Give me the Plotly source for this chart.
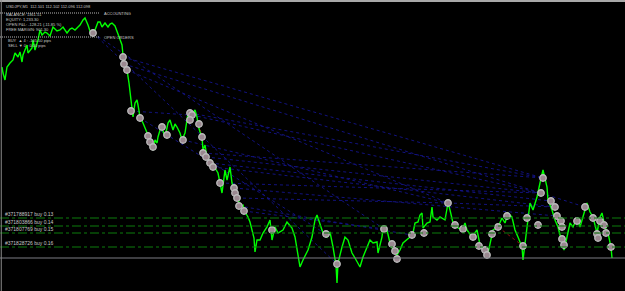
import plotly.graph_objects as go

# ---- price series (USDJPY M1) ----
bars = [2,3,5,7,10,13,15,18,20,22,23,27,28,32,33,35,38,40,42,45,47,50,53,57,60,63,67,70,72,75,78,80,83,85,88,90,92,95,98,100,102,105,108,110,112,115,118,120,122,123,124,126,127,129,131,132,133,135,137,138,140,143,147,150,153,155,157,158,160,162,165,168,170,173,175,177,180,182,185,188,190,193,195,197,198,200,202,203,205,207,210,212,215,218,220,222,225,227,230,232,235,238,240,243,245,248,250,252,254,255,257,260,263,267,270,272,275,278,283,287,292,295,298,300,303,308,312,315,317,320,323,327,330,333,336,337,338,342,345,348,352,355,360,363,367,370,373,377,378,382,383,387,390,393,397,400,403,407,410,413,415,418,420,422,423,427,430,432,433,437,440,445,448,450,453,458,462,465,467,472,477,480,485,487,490,493,498,502,505,508,512,515,518,522,523,525,528,530,533,537,540,543,547,548,552,555,558,562,564,567,570,573,577,580,583,587,590,593,597,600,602,605,608,611,612]
close = [112.333,112.327,112.320,112.333,112.337,112.340,112.347,112.343,112.348,112.338,112.345,112.355,112.347,112.352,112.360,112.350,112.360,112.370,112.365,112.368,112.367,112.364,112.373,112.369,112.370,112.373,112.367,112.371,112.372,112.370,112.373,112.375,112.380,112.382,112.375,112.369,112.367,112.370,112.378,112.378,112.373,112.377,112.373,112.376,112.377,112.374,112.366,112.361,112.355,112.345,112.338,112.334,112.330,112.317,112.300,112.288,112.283,112.297,112.300,112.295,112.283,112.277,112.267,112.260,112.250,112.260,112.257,112.263,112.270,112.272,112.263,112.277,112.280,112.270,112.276,112.273,112.267,112.260,112.267,112.287,112.283,112.288,112.290,112.283,112.275,112.268,112.263,112.250,112.255,112.243,112.237,112.237,112.232,112.227,112.217,112.207,112.230,112.220,112.233,112.217,112.207,112.202,112.193,112.195,112.188,112.183,112.178,112.170,112.162,112.148,112.160,112.160,112.167,112.173,112.180,112.160,112.173,112.167,112.170,112.178,112.172,112.163,112.142,112.133,112.140,112.150,112.163,112.180,112.185,112.177,112.167,112.163,112.168,112.153,112.135,112.117,112.137,112.153,112.163,112.160,112.147,112.142,112.133,112.143,112.153,112.160,112.157,112.158,112.147,112.163,112.172,112.170,112.157,112.150,112.145,112.150,112.157,112.160,112.163,112.167,112.177,112.178,112.185,112.187,112.172,112.177,112.178,112.193,112.183,112.180,112.183,112.180,112.197,112.190,112.177,112.172,112.170,112.177,112.170,112.163,112.170,112.155,112.148,112.142,112.157,112.170,112.173,112.182,112.177,112.187,112.183,112.170,112.163,112.153,112.140,112.157,112.180,112.197,112.190,112.203,112.217,112.230,112.213,112.200,112.190,112.180,112.173,112.157,112.150,112.163,112.177,112.173,112.182,112.173,112.183,112.197,112.188,112.183,112.167,112.183,112.187,112.173,112.167,112.153,112.142]

# ---- order arrows (open/close points) ----
order_x = [93,123,124,127,131,140,148,150,153,162,167,183,190,192,190,199,202,203,206,210,213,220,234,235,237,239,244,272,326,337,384,392,395,397,412,424,448,455,463,473,479,485,487,492,498,507,523,527,538,541,543,551,555,557,561,562,562,564,577,585,593,597,598,600,604,606,611]
order_p = [112.367,112.343,112.336,112.330,112.289,112.282,112.264,112.258,112.253,112.273,112.265,112.260,112.287,112.285,112.280,112.276,112.263,112.247,112.243,112.237,112.233,112.217,112.212,112.207,112.202,112.194,112.189,112.170,112.166,112.136,112.171,112.156,112.149,112.141,112.165,112.167,112.197,112.175,112.171,112.163,112.154,112.150,112.145,112.166,112.173,112.184,112.154,112.182,112.175,112.207,112.222,112.199,112.193,112.184,112.179,112.173,112.161,112.155,112.179,112.193,112.182,112.166,112.162,112.179,112.175,112.167,112.153]

# ---- trade connectors (open -> close) ----
seg_open_x  = [123,124,127,93,93,131,140,190,192,203,206,210,213,220,234,237,239,244,448,541,183]
seg_open_p  = [112.343,112.336,112.330,112.367,112.367,112.289,112.282,112.287,112.285,112.247,112.243,112.237,112.233,112.217,112.212,112.202,112.194,112.189,112.197,112.207,112.260]
seg_close_x = [543,541,448,384,337,190,326,543,541,543,541,551,555,541,557,448,412,384,555,585,448]
seg_close_p = [112.222,112.207,112.197,112.171,112.136,112.285,112.166,112.222,112.207,112.222,112.207,112.199,112.193,112.207,112.184,112.197,112.165,112.171,112.193,112.193,112.197]
loss_open_x  = [199,498]
loss_open_p  = [112.276,112.173]
loss_close_x = [202,523]
loss_close_p = [112.263,112.154]

# ---- horizontal levels ----
buy_levels = [112.182,112.174,112.167,112.153]
buy_labels = ["#371788917 buy 0.13","#371803866 buy 0.14","#371807769 buy 0.15","#371828726 buy 0.16"]
bid_level = 112.142
accounting_level = 112.387
open_orders_level = 112.363

header = "USDJPY,M1  112.101 112.102 112.096 112.098"
account_lines = ["BALANCE: 1361.51","EQUITY: 1,233.30","OPEN P&L: -128.21 (-11.85 %)","FREE MARGIN: 901.30"]
orders_lines = ["BUY  \u25b2 4 : -105.50 pips","SELL \u25bc 0 : 0.00 pips"]

Y0, Y1 = 112.109, 112.400
FONT = "Liberation Sans, Arial"
TXT5 = dict(family=FONT, size=5, color="#c8c8c8")
TXT4 = dict(family=FONT, size=4, color="#c8c8c8")

fig = go.Figure()

def seg_trace(ox, op, cx, cp, color):
    xs, ys = [], []
    for a, b, c, d in zip(ox, op, cx, cp):
        xs += [a, c, None]
        ys += [b, d, None]
    return go.Scatter(x=xs, y=ys, mode="lines", line=dict(color=color, width=0.9, dash="dot"),
                      hoverinfo="skip", showlegend=False)

fig.add_trace(seg_trace(seg_open_x, seg_open_p, seg_close_x, seg_close_p, "#14148c"))
fig.add_trace(seg_trace(loss_open_x, loss_open_p, loss_close_x, loss_close_p, "#9a1414"))

fig.add_trace(go.Scatter(x=bars, y=close, mode="lines",
                         line=dict(color="#00ff00", width=1.4), showlegend=False))

fig.add_trace(go.Scatter(x=order_x, y=order_p, mode="markers",
                         marker=dict(size=6.5, color="#9a8890", line=dict(color="#bcbcbc", width=1.3)),
                         showlegend=False))

shapes = []
for lv in buy_levels:
    shapes.append(dict(type="line", xref="paper", x0=0, x1=1, yref="y", y0=lv, y1=lv,
                       line=dict(color="#0c7c0c", width=1, dash="dashdot")))
shapes.append(dict(type="line", xref="paper", x0=0, x1=1, yref="y", y0=bid_level, y1=bid_level,
                   line=dict(color="#7c7c84", width=1)))
for lv in [accounting_level, open_orders_level]:
    shapes.append(dict(type="line", xref="x", x0=0, x1=100, yref="y", y0=lv, y1=lv,
                       line=dict(color="#b4b4b4", width=1, dash="1px,1px")))
# window frame
shapes.append(dict(type="rect", xref="paper", yref="paper", x0=0, x1=1, y0=0.993, y1=1.0,
                   fillcolor="#a8a8a8", line=dict(width=0)))
shapes.append(dict(type="line", xref="paper", yref="paper", x0=0.002, x1=0.002, y0=0, y1=1,
                   line=dict(color="#8a8a8a", width=1)))

annotations = []
annotations.append(dict(x=4, y=112.394, xref="x", yref="y", text=header, showarrow=False,
                        xanchor="left", yanchor="middle", font=TXT4))
acc_y = [112.3855, 112.3805, 112.3755, 112.3705]
for t, yy in zip(account_lines, acc_y):
    annotations.append(dict(x=4, y=yy, xref="x", yref="y", text=t, showarrow=False,
                            xanchor="left", yanchor="middle", font=TXT4))
ord_y = [112.3595, 112.3545]
for t, yy in zip(orders_lines, ord_y):
    annotations.append(dict(x=6, y=yy, xref="x", yref="y", text=t, showarrow=False,
                            xanchor="left", yanchor="middle", font=TXT4))
annotations.append(dict(x=102, y=accounting_level, xref="x", yref="y", text="ACCOUNTING",
                        showarrow=False, xanchor="left", yanchor="middle", font=TXT4))
annotations.append(dict(x=102, y=open_orders_level, xref="x", yref="y", text="OPEN ORDERS",
                        showarrow=False, xanchor="left", yanchor="middle", font=TXT4))
for lv, t in zip(buy_levels, buy_labels):
    annotations.append(dict(x=3, y=lv, xref="x", yref="y", text=t, showarrow=False,
                            xanchor="left", yanchor="bottom", yshift=-1, font=TXT5))

fig.update_layout(
    width=625, height=291, margin=dict(l=0, r=0, t=0, b=0),
    paper_bgcolor="#000000", plot_bgcolor="#000000",
    xaxis=dict(range=[0, 625], visible=False, fixedrange=True),
    yaxis=dict(range=[Y0, Y1], visible=False, fixedrange=True),
    shapes=shapes, annotations=annotations, showlegend=False,
)

fig.write_html("out.html")
